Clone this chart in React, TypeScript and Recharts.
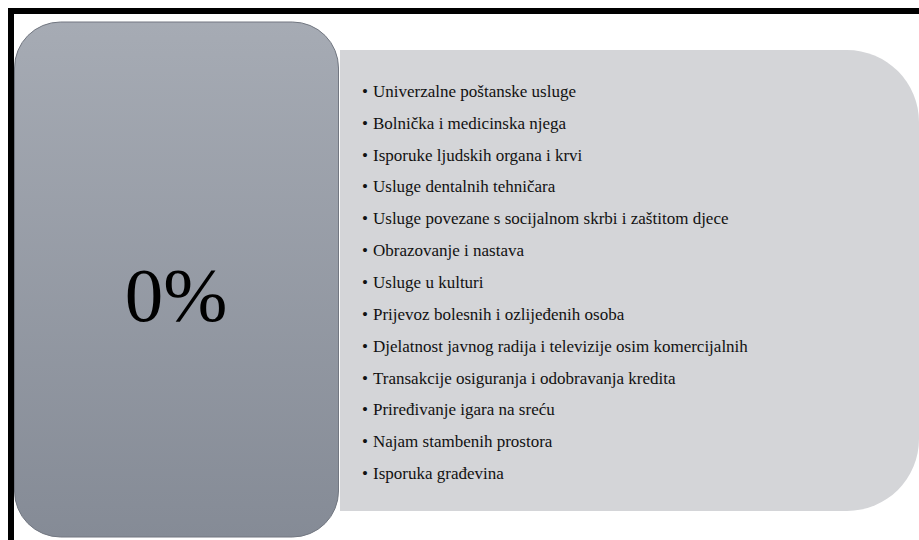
import { Bar, ComposedChart, XAxis, YAxis } from "recharts";

// Stavke koje se oporezuju stopom 0%
const STAVKE = [
  "Univerzalne poštanske usluge",
  "Bolnička i medicinska njega",
  "Isporuke ljudskih organa i krvi",
  "Usluge dentalnih tehničara",
  "Usluge povezane s socijalnom skrbi i zaštitom djece",
  "Obrazovanje i nastava",
  "Usluge u kulturi",
  "Prijevoz bolesnih i ozlijeđenih osoba",
  "Djelatnost javnog radija i televizije osim komercijalnih",
  "Transakcije osiguranja i odobravanja kredita",
  "Priređivanje igara na sreću",
  "Najam stambenih prostora",
  "Isporuka građevina",
];
const STOPE = [0, 0, 0, 0, 0, 0, 0, 0, 0, 0, 0, 0, 0];
const NASLOV = `${STOPE[0]}%`;

const W = 919;
const H = 540;
const SERIF = "'Liberation Serif', 'Times New Roman', serif";

const data = STAVKE.map((s, i) => ({ stavka: s, stopa: STOPE[i] }));

// lijevi blok: zaobljeni pravokutnik
function leftBox(x: number, y: number, w: number, h: number, r: number) {
  return `M${x + r},${y} H${x + w - r} A${r},${r} 0 0 1 ${x + w},${y + r} V${y + h - r} A${r},${r} 0 0 1 ${x + w - r},${y + h} H${x + r} A${r},${r} 0 0 1 ${x},${y + h - r} V${y + r} A${r},${r} 0 0 1 ${x + r},${y} Z`;
}

// desni blok: zaobljen samo s desne strane
function rightBox(x: number, y: number, w: number, h: number, r: number) {
  return `M${x},${y} H${x + w - r} A${r},${r} 0 0 1 ${x + w},${y + r} V${y + h - r} A${r},${r} 0 0 1 ${x + w - r},${y + h} H${x} Z`;
}

const txt = { fontFamily: SERIF, fontSize: 17, fill: "#111" };

function StavkaTick(props: any) {
  const { y, payload } = props;
  return (
    <g>
      <text x={362} y={y} dy={5} style={txt}>
        •
      </text>
      <text x={373} y={y} dy={5} style={txt}>
        {payload.value}
      </text>
    </g>
  );
}

export default function App() {
  return (
    <div style={{ position: "absolute", left: 0, top: 0, width: W, height: H, background: "#fff" }}>
      <ComposedChart
        width={W}
        height={H}
        data={data}
        layout="vertical"
        margin={{ top: 76, right: 0, bottom: 50, left: 0 }}
      >
        <defs>
          <linearGradient id="lijevo" x1="0" y1="0" x2="0" y2="1">
            <stop offset="0%" stopColor="#a6abb4" />
            <stop offset="100%" stopColor="#858b96" />
          </linearGradient>
        </defs>
        <rect x={8} y={8} width={W - 8} height={6} fill="#000" />
        <rect x={8} y={8} width={6} height={H - 8} fill="#000" />
        <path d={leftBox(14.5, 22, 324, 515, 46)} fill="url(#lijevo)" stroke="#727781" strokeWidth={1} />
        <path d={rightBox(340, 50, W - 340, 461, 72)} fill="#d4d5d8" />
        <text
          x={176}
          y={321}
          textAnchor="middle"
          style={{ fontFamily: SERIF, fontSize: 77, fill: "#000" }}
        >
          {NASLOV}
        </text>
        <XAxis type="number" domain={[0, 1]} hide />
        <YAxis
          type="category"
          dataKey="stavka"
          width={1}
          axisLine={false}
          tickLine={false}
          interval={0}
          tick={<StavkaTick />}
        />
        <Bar dataKey="stopa" fill="#858b96" isAnimationActive={false} />
      </ComposedChart>
    </div>
  );
}
